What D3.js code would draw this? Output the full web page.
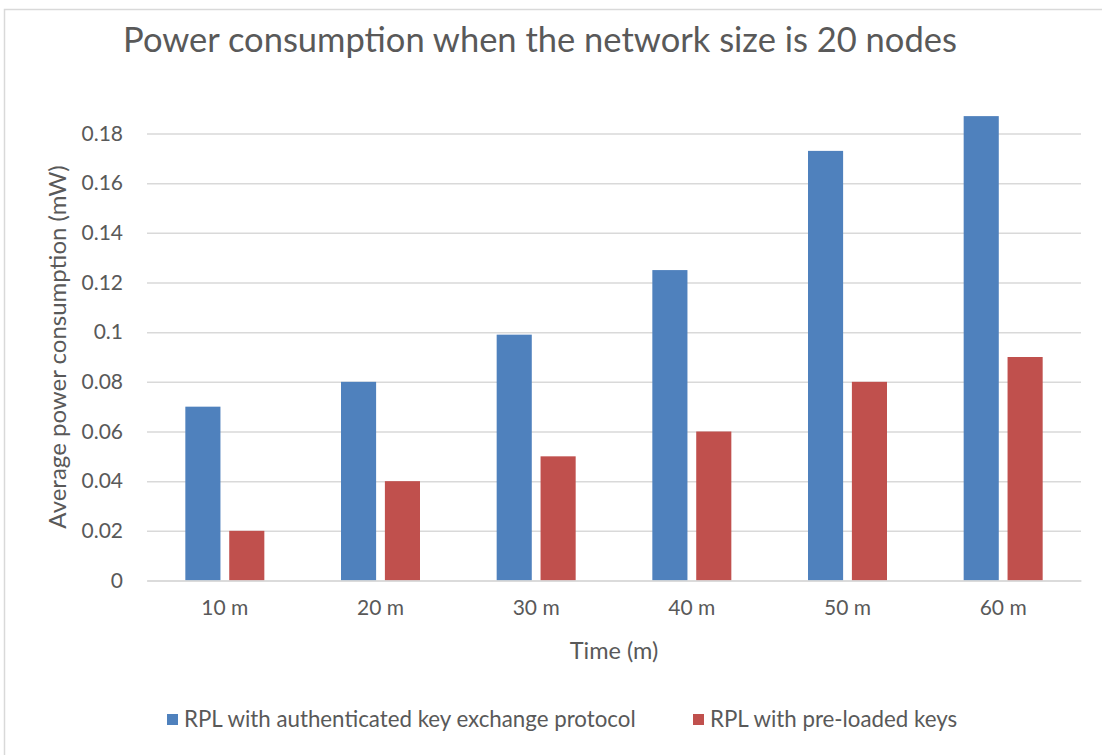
<!DOCTYPE html>
<html>
<head>
<meta charset="utf-8">
<script src="https://cdn.jsdelivr.net/npm/d3@7"></script>
<style>
  html, body { margin: 0; padding: 0; background: #fff; }
  svg { display: block; }
  text { font-family: Lato, "Open Sans", sans-serif; fill: #595959; }
</style>
</head>
<body>
<svg id="chart" width="1102" height="755"></svg>
<script>
// Time points (x categories)
const categories = ["10 m", "20 m", "30 m", "40 m", "50 m", "60 m"];
// Series names
const seriesNames = ["RPL with authenticated key exchange protocol", "RPL with pre-loaded keys"];
// Average power consumption (mW) per series
const authKeyExchange = [0.07, 0.08, 0.099, 0.125, 0.173, 0.187];
const preloadedKeys = [0.02, 0.04, 0.05, 0.06, 0.08, 0.09];
// Y axis tick values
const yTicks = [0, 0.02, 0.04, 0.06, 0.08, 0.1, 0.12, 0.14, 0.16, 0.18];

const seriesColors = ["#4f81bd", "#c0504d"];
const seriesValues = [authKeyExchange, preloadedKeys];

const svg = d3.select("#chart");

// Chart frame
svg.append("rect")
  .attr("x", 4.5).attr("y", 9.5)
  .attr("width", 1200).attr("height", 800)
  .attr("fill", "none").attr("stroke", "#d9d9d9").attr("stroke-width", 1.5);

const plot = { left: 147, right: 1081, top: 133.5, bottom: 580.5 };

const x = d3.scaleBand().domain(categories).range([plot.left, plot.right]).padding(0);
const bw = x.bandwidth();
const x1 = d3.scaleBand().domain(seriesNames)
  .range([bw / 2 - 39.5, bw / 2 + 39.5]).paddingInner(0.2);
const y = d3.scaleLinear().domain([0, 0.18]).range([plot.bottom, plot.top]);

// Gridlines and y tick labels
const fmt = d3.format("~g");
const yAxis = d3.axisLeft(y).tickValues(yTicks)
  .tickSize(-(plot.right - plot.left)).tickPadding(24).tickFormat(d => fmt(+d.toFixed(4)));
const gy = svg.append("g").attr("transform", `translate(${plot.left},0)`).call(yAxis);
gy.select(".domain").remove();
gy.selectAll(".tick line").attr("stroke", "#d9d9d9").attr("stroke-width", 1.5);
gy.selectAll(".tick text").style("font-size", "21px").attr("fill", "#595959");

// Bars
const groups = svg.append("g").selectAll("g")
  .data(categories)
  .join("g")
  .attr("transform", d => `translate(${x(d)},0)`);

groups.selectAll("rect")
  .data((d, i) => seriesNames.map((s, k) => ({ s, k, v: seriesValues[k][i] })))
  .join("rect")
  .attr("x", d => x1(d.s))
  .attr("width", x1.bandwidth())
  .attr("y", d => y(d.v))
  .attr("height", d => y(0) - y(d.v))
  .attr("fill", d => seriesColors[d.k]);

// X axis
const xAxis = d3.axisBottom(x).tickSize(0).tickPadding(20);
const gx = svg.append("g").attr("transform", `translate(0,${plot.bottom})`).call(xAxis);
gx.select(".domain").attr("stroke", "#d9d9d9").attr("stroke-width", 1.5);
gx.selectAll(".tick text").style("font-size", "21px").attr("fill", "#595959");

// Titles
svg.append("text")
  .attr("x", 540).attr("y", 52)
  .attr("text-anchor", "middle")
  .style("font-size", "34.5px")
  .text("Power consumption when the network size is 20 nodes");

svg.append("text")
  .attr("x", 614).attr("y", 659)
  .attr("text-anchor", "middle")
  .style("font-size", "23.5px")
  .text("Time (m)");

svg.append("text")
  .attr("transform", "translate(66,347) rotate(-90)")
  .attr("text-anchor", "middle")
  .style("font-size", "24px")
  .text("Average power consumption (mW)");

// Legend
const legendX = [167, 693];
const legend = svg.append("g").selectAll("g")
  .data(seriesNames)
  .join("g")
  .attr("transform", (d, i) => `translate(${legendX[i]},714)`);
legend.append("rect")
  .attr("width", 11).attr("height", 11)
  .attr("fill", (d, i) => seriesColors[i]);
legend.append("text")
  .attr("x", 17).attr("y", 13)
  .style("font-size", "22.3px")
  .text(d => d);
</script>
</body>
</html>
